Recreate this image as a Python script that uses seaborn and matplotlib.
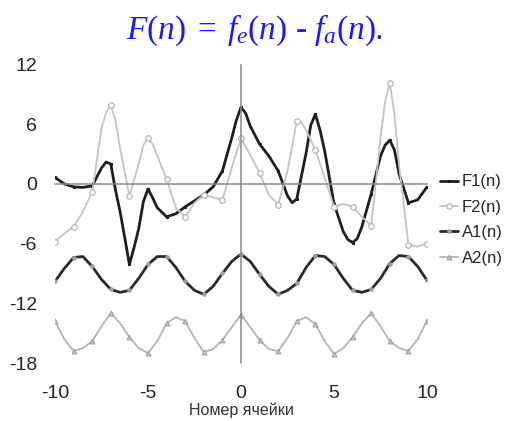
#!/usr/bin/env python3
import matplotlib

matplotlib.use("Agg")
import matplotlib.pyplot as plt
import numpy as np
import pandas as pd
import seaborn as sns

# cell number, half-step grid
x_cells = np.arange(-10, 10.5, 0.5)

f1 = [0.65, 0.0, -0.3, -0.35, -0.2, 1.6, 2.0, -2.8, -8.1, -4.5,
      -0.5, -2.4, -3.3, -3.0, -2.3, -1.7, -1.1, -0.3, 1.3, 4.6,
      7.7, 5.8, 4.0, 2.8, 1.3, -1.2, -1.5, 3.1, 7.0, 3.3,
      -2.0, -4.8, -5.9, -4.3, -1.0, 2.8, 4.4, 1.0, -1.9, -1.6, -0.3]
f2 = [-5.8, -5.0, -4.3, -2.8, -0.8, 5.6, 7.9, 3.6, -1.2, 2.0,
      4.6, 2.8, 0.5, -2.4, -3.3, -1.9, -1.1, -1.35, -1.6, 1.6,
      4.6, 2.9, 1.1, -1.1, -2.1, 1.3, 6.3, 5.4, 3.4, 0.6,
      -2.3, -2.0, -2.3, -3.3, -4.2, 4.6, 10.1, 1.9, -6.1, -6.3, -6.0]
a1 = [-9.8, -8.5, -7.4, -7.3, -8.3, -9.6, -10.6, -10.9, -10.7, -9.5,
      -8.1, -7.3, -7.3, -8.4, -9.8, -10.7, -11.1, -10.3, -9.0, -7.8,
      -7.05, -7.8, -9.1, -10.3, -11.1, -10.7, -10.0, -8.4, -7.2, -7.3,
      -8.1, -9.5, -10.7, -10.9, -10.6, -9.5, -8.0, -7.2, -7.3, -8.3, -9.7]
a2 = [-13.8, -15.6, -16.8, -16.5, -15.8, -14.3, -13.0, -14.0, -15.4, -16.5,
      -17.0, -15.8, -14.0, -13.4, -13.8, -15.5, -16.9, -16.6, -15.7, -14.4,
      -13.15, -14.4, -15.7, -16.6, -16.8, -15.5, -13.8, -13.4, -14.1, -15.8,
      -17.1, -16.5, -15.4, -14.0, -13.0, -14.3, -15.8, -16.5, -16.8, -15.6, -13.75]

# extra readings around the sharp peaks
f1_extra_x = [-7.25, -6.75, -6.25, -5.75, -5.25, -4.75, -0.25, 0.25,
              2.75, 3.75, 4.25, 5.75, 6.25, 7.75, 8.25]
f1_extra_y = [2.2, -0.6, -5.4, -6.4, -1.8, -1.4, 6.4, 7.1,
              -1.9, 5.9, 5.4, -5.6, -5.5, 3.9, 3.4]
f2_extra_x = [-7.25, -6.75, -5.25, -4.75, 3.25, 7.75, 8.25]
f2_extra_y = [7.2, 6.4, 3.9, 4.0, 6.2, 8.3, 7.0]

series_names = ["F1(n)", "F2(n)", "A1(n)", "A2(n)"]
y_ticks = [12, 6, 0, -6, -12, -18]
x_ticks = [-10, -5, 0, 5, 10]


def build_series(x_vals, y_vals, extra_x=(), extra_y=()) -> pd.DataFrame:
    df = pd.DataFrame({"x": list(x_vals) + list(extra_x),
                       "y": list(y_vals) + list(extra_y)})
    return df.sort_values("x").reset_index(drop=True)


def main() -> None:
    sns.set_style("white")
    plt.rcParams["font.family"] = ["Liberation Sans", "DejaVu Sans"]
    plt.rcParams["axes.unicode_minus"] = False
    plt.rcParams["mathtext.fontset"] = "custom"
    plt.rcParams["mathtext.it"] = "Liberation Serif:italic"
    plt.rcParams["mathtext.rm"] = "Liberation Serif"

    data = {
        "F1(n)": build_series(x_cells, f1, f1_extra_x, f1_extra_y),
        "F2(n)": build_series(x_cells, f2, f2_extra_x, f2_extra_y),
        "A1(n)": build_series(x_cells, a1),
        "A2(n)": build_series(x_cells, a2),
    }

    styles = {
        "F1(n)": dict(color="#1e1e1e", lw=2.0, marker="s", ms=2,
                      mfc="#1e1e1e", mec="#1e1e1e"),
        "F2(n)": dict(color="#c4c4c4", lw=1.3, marker="o", ms=4,
                      mfc="white", mec="#a8a8a8"),
        "A1(n)": dict(color="#2a2a2a", lw=2.0, marker="o", ms=2.5,
                      mfc="#a0a0a0", mec="#a0a0a0"),
        "A2(n)": dict(color="#b4b4b4", lw=1.3, marker="^", ms=3.5,
                      mfc="#c8c8c8", mec="#a0a0a0"),
    }

    fig = plt.figure(figsize=(5.09, 4.21), dpi=100)
    ax = fig.add_axes([55 / 509, 1 - 363 / 421, 372 / 509, 298.5 / 421])

    for name in series_names:
        df = data[name]
        on_cell = df["x"] % 1 == 0
        sns.lineplot(data=df, x="x", y="y", ax=ax, label=name,
                     markevery=list(np.flatnonzero(on_cell)),
                     **styles[name])

    ax.set_xlim(-10, 10)
    ax.set_ylim(-18, 12)
    ax.set_xlabel("")
    ax.set_ylabel("")

    axis_color = "#8a8a8a"
    for side in ["top", "right"]:
        ax.spines[side].set_visible(False)
    for side in ["left", "bottom"]:
        ax.spines[side].set_position(("data", 0))
        ax.spines[side].set_color(axis_color)
        ax.spines[side].set_linewidth(1.1)
    ax.set_yticks([t for t in y_ticks if t != 0])
    ax.set_xticks([t for t in x_ticks if t != 0])
    ax.tick_params(axis="y", direction="out", length=4, width=1,
                   color=axis_color, labelleft=False)
    ax.tick_params(axis="x", direction="inout", length=6, width=1,
                   color=axis_color, labelbottom=False)

    # tick labels sit at the frame edge, not at the crossing axes
    sec_y = ax.secondary_yaxis("left")
    sec_y.set_yticks(y_ticks)
    sec_y.spines["left"].set_visible(False)
    sec_y.tick_params(length=0, pad=13, labelsize=14)
    sec_x = ax.secondary_xaxis("bottom")
    sec_x.set_xticks(x_ticks)
    sec_x.spines["bottom"].set_visible(False)
    sec_x.tick_params(length=0, pad=16, labelsize=14)

    fig.text(241 / 509, 1 - 410 / 421, "Номер ячейки", ha="center",
             va="center", fontsize=11.5, color="#333333")

    fig.text(0.5, 1 - 30 / 421, r"$F(n)\;=\;f_e(n)$ - $f_a(n)$.",
             ha="center", va="center", fontsize=24, color="#1a1aff",
             family="Liberation Serif", style="italic")

    handles, labels = ax.get_legend_handles_labels()
    ax.legend(handles, labels, loc="center left",
              bbox_to_anchor=(440 / 509, 1 - 220 / 421),
              bbox_transform=fig.transFigure, frameon=False,
              fontsize=12, handlelength=1.1, handletextpad=0.2,
              borderpad=0, borderaxespad=0, labelspacing=0.62)

    fig.savefig("out.png", dpi=100)
    plt.close(fig)


if __name__ == "__main__":
    main()
